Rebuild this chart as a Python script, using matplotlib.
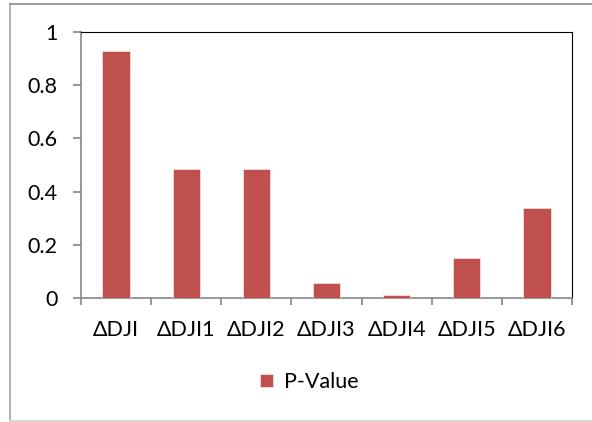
import matplotlib.pyplot as plt
from matplotlib.lines import Line2D

# --- Data ---
categories = ["ΔDJI", "ΔDJI1", "ΔDJI2", "ΔDJI3", "ΔDJI4", "ΔDJI5", "ΔDJI6"]
p_values = [0.927, 0.485, 0.485, 0.058, 0.011, 0.149, 0.339]
series_name = "P-Value"

BAR_COLOR = "#C0504D"
AXIS_GRAY = "#868686"

plt.rcParams['font.family'] = ['Lato', 'DejaVu Sans']

fig = plt.figure(figsize=(5.92, 4.22), dpi=100)
# Outer chart border (left, top, bottom visible; right runs off the image)
fig.lines.append(Line2D([10 / 592, 10 / 592], [1 - 421 / 422, 1 - 4 / 422],
                        transform=fig.transFigure, color="#A6A6A6", linewidth=1.2))
fig.lines.append(Line2D([10 / 592, 1], [1 - 4 / 422, 1 - 4 / 422],
                        transform=fig.transFigure, color="#8C8C8C", linewidth=1.2))
fig.lines.append(Line2D([10 / 592, 1], [1 - 421 / 422, 1 - 421 / 422],
                        transform=fig.transFigure, color="#D9D9D9", linewidth=1.5))

ax = fig.add_axes([81 / 592, 1 - 298 / 422, 491 / 592, 266 / 422])

x = range(len(categories))
ax.bar(x, p_values, width=0.39, color=BAR_COLOR, edgecolor="#F2DCDB", linewidth=0.6,
       label=series_name, zorder=3)

ax.set_xlim(-0.5, len(categories) - 0.5)
ax.set_ylim(0, 1)
ax.set_yticks([0, 0.2, 0.4, 0.6, 0.8, 1])
ax.set_yticklabels(["0", "0.2", "0.4", "0.6", "0.8", "1"])
ax.set_xticks(list(x))
ax.set_xticklabels(categories)
ax.set_xticks([i - 0.5 for i in range(len(categories) + 1)], minor=True)

ax.tick_params(axis='x', which='major', length=0, labelsize=15.5, pad=16)
ax.tick_params(axis='x', which='minor', length=5, color=AXIS_GRAY, width=1.2)
ax.tick_params(axis='y', length=6, color=AXIS_GRAY, width=1.2, labelsize=15.5, pad=11)

ax.spines['left'].set_color(AXIS_GRAY)
ax.spines['bottom'].set_color(AXIS_GRAY)
ax.spines['left'].set_linewidth(1.2)
ax.spines['bottom'].set_linewidth(1.2)
ax.spines['top'].set_color('black')
ax.spines['right'].set_color('black')

fig.legend(loc='center', bbox_to_anchor=(309 / 592, 1 - 382 / 422), frameon=False,
           fontsize=15.5, handlelength=0.6, handleheight=0.6, handletextpad=0.5)

fig.savefig("out.png", dpi=100)
